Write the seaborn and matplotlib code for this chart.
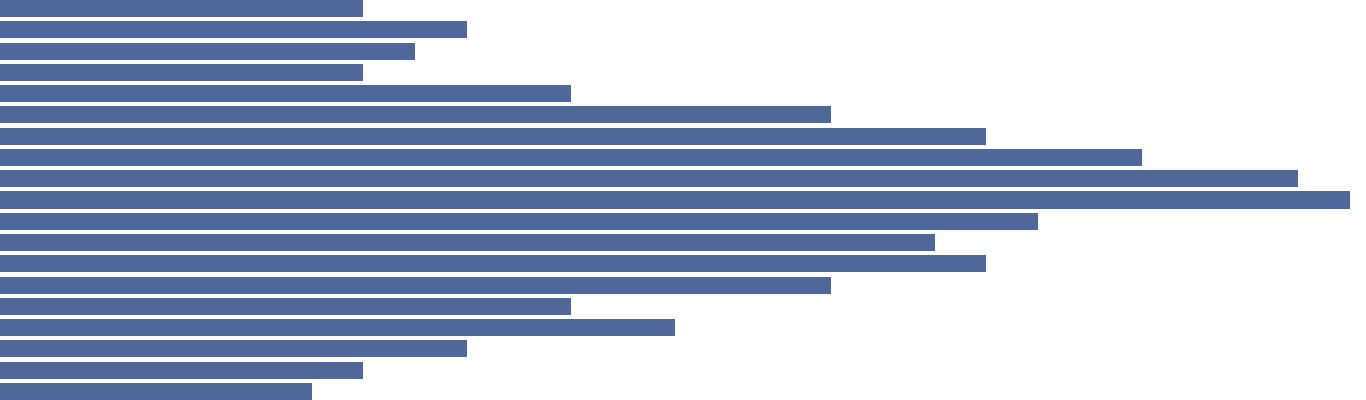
import matplotlib
matplotlib.use("Agg")
import matplotlib.pyplot as plt
import seaborn as sns
import pandas as pd

categories = [f"r{i:02d}" for i in range(1, 20)]
values = [7, 9, 8, 7, 11, 16, 19, 22, 25, 26, 20, 18, 19, 16, 11, 13, 9, 7, 6]

df = pd.DataFrame({"cat": categories, "val": values})

sns.set_theme(style="white")
fig = plt.figure(figsize=(13.66, 4.0), dpi=100)
ax = fig.add_axes([0, 0, 1, 1])
sns.barplot(data=df, x="val", y="cat", orient="h", color="#4F6899",
            saturation=1, width=0.8, ax=ax, edgecolor="none")
ax.set_xlim(0, 26.31)
ax.set_ylim(18.4, -0.4)
ax.axis("off")
fig.savefig("out.png", dpi=100)
